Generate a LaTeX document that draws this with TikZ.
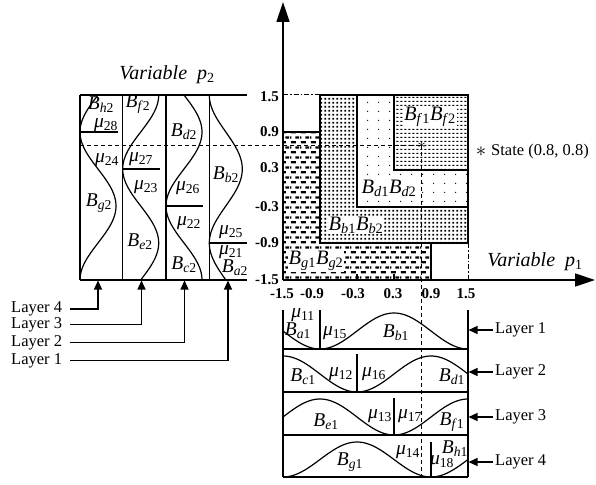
\documentclass[tikz,border=0pt]{standalone}
\usepackage{fontspec}
\setmainfont{Liberation Serif}
\usetikzlibrary{patterns.meta,arrows.meta}
\tikzdeclarepattern{name=gdash,type=uncolored,bounding box={(0pt,0pt) and (10pt,10pt)},tile size={(10pt,10pt)},code={\fill (1pt,0.8pt) rectangle (6.5pt,3.2pt); \fill (6pt,5.8pt) rectangle (10pt,8.2pt); \fill (0pt,5.8pt) rectangle (1.5pt,8.2pt);}}
\tikzdeclarepattern{name=bdots,type=uncolored,bounding box={(0pt,0pt) and (4pt,4pt)},tile size={(4pt,4pt)},code={\fill (0.5pt,0.5pt) rectangle (2.5pt,2.5pt);}}
\tikzdeclarepattern{name=ddots,type=uncolored,bounding box={(0pt,0pt) and (11pt,9pt)},tile size={(11pt,9pt)},code={\fill (5pt,4pt) circle (0.7pt);}}
\tikzdeclarepattern{name=fdash,type=uncolored,bounding box={(0pt,0pt) and (4pt,3.6pt)},tile size={(4pt,3.6pt)},code={\fill (0.5pt,1.2pt) rectangle (2.8pt,2.3pt);}}
\newcommand\Bl[2]{\textit{B}\textsubscript{\textit{#1}#2}}
\newcommand\mul[1]{\textit{μ}\textsubscript{#1}}
\begin{document}
\begin{tikzpicture}[x=1pt,y=-1pt,
  ln/.style={line width=1.3pt},
  crv/.style={line width=1.2pt},
  dsh/.style={line width=1pt,dash pattern=on 4pt off 3pt},
  dd/.style={line width=1pt,dash pattern=on 5pt off 2pt on 1.5pt off 2pt},
  lbl/.style={font=\fontsize{16.5}{16.5}\selectfont,inner sep=0pt},
  bl/.style={font=\fontsize{19.5}{19.5}\selectfont,inner sep=0pt},
  reg/.style={font=\fontsize{20.5}{20.5}\selectfont,fill=white,inner sep=1pt},
  tk/.style={font=\bfseries\fontsize{15}{15}\selectfont,inner sep=0pt},
  ttl/.style={font=\itshape\fontsize{20}{20}\selectfont,inner sep=0pt},
  arr/.style={line width=1.3pt,-{Triangle[length=9pt,width=8pt]}},
  axis/.style={line width=1.4pt,-{Triangle[length=20pt,width=13pt]}}]
\useasboundingbox (0,0) rectangle (596,484);

% ---------- main plot regions ----------
\fill[pattern=gdash] (283,280) -- (431,280) -- (431,243) -- (320,243) -- (320,132) -- (283,132) -- cycle;
\fill[pattern=bdots] (320,243) -- (320,95) -- (357,95) -- (357,207) -- (468,207) -- (468,243) -- cycle;
\fill[pattern=ddots] (357,207) -- (357,95) -- (394,95) -- (394,170) -- (468,170) -- (468,207) -- cycle;
\fill[pattern=fdash] (394,95) rectangle (468,170);

\node[reg] (gl) at (316,261) {\Bl{g}{1}\Bl{g}{2}};
\node[reg] (bl) at (356,225) {\Bl{b}{1}\Bl{b}{2}};
\node[reg] (dl) at (389,188) {\Bl{d}{1}\Bl{d}{2}};
\node[reg] (fl) at (430,117) {\Bl{f}{1}\Bl{f}{2}};

\draw[ln] (283,132) -- (320,132);
\draw[ln] (320,243) rectangle (468,95);
\draw[ln] (431,243) -- (431,280);
\draw[ln] (357,95) -- (357,207) -- (468,207);
\draw[ln] (394,95) -- (394,170) -- (468,170);
\draw[dd] (283,95) -- (320,95);
\draw[dd] (468,243) -- (468,280);
\draw[ln] (357,280) -- (357,274);
\draw[ln] (394,280) -- (394,274);

% axes
\coordinate (O) at (283,280);
\coordinate (ytip) at (283,2);
\coordinate (xtip) at (595,280);
\draw[axis] (O) -- (ytip);
\draw[axis] (O) -- (xtip);

% state
\node[inner sep=0pt,font=\fontsize{17}{17}\selectfont] (st) at (421.7,145) {$\ast$};
\coordinate (dL) at (80,145);
\coordinate (dB) at (421.7,477);
\draw[dsh] (dL) -- (st.center);
\draw[dsh] (st.center) -- (dB);
\node[inner sep=0pt,font=\fontsize{22}{22}\selectfont] (lgs) at (481,152) {$\ast$};
\node[lbl,anchor=west] (lgt) at (491,152) {State (0.8, 0.8)};

% tick labels
\foreach \v/\y in {1.5/97,0.9/132,0.3/168,-0.3/207,-0.9/243,-1.5/280}
  \node[tk,anchor=east] at (279,\y) {\v};
\foreach \v/\x in {-1.5/282,-0.9/312,-0.3/353,0.3/393,0.9/431,1.5/466}
  \node[tk] at (\x,294) {\v};

\node[ttl] (t2) at (167,75) {Variable\enspace p\textsubscript{\upshape 2}};
\node[ttl] (t1) at (535,262) {Variable\enspace p\textsubscript{\upshape 1}};

% ---------- p2 panel ----------
\draw[ln] (80,95) -- (247,95);
\draw[ln] (80,280) -- (247,280);
\foreach \x in {80,122.7,166,209.3} \draw[ln] (\x,95) -- (\x,280);
\draw[ln] (80,132) -- (118,132);
\draw[ln] (122.7,169) -- (160,169);
\draw[ln] (166,206) -- (203,206);
\draw[ln] (209.3,243) -- (247,243);
\draw[crv] plot[domain=-1.5:1.5,samples=80,smooth] ({80+36*(1+cos(360*(\x+0.3)/2.4))/2},{280-(\x+1.5)*61.667});
\draw[crv] plot[domain=-1.5:1.5,samples=80,smooth] ({122.7+36*(1+cos(360*(\x+0.9)/2.4))/2},{280-(\x+1.5)*61.667});
\draw[crv] plot[domain=-1.5:1.5,samples=80,smooth] ({166+36*(1+cos(360*(\x-0.9)/2.4))/2},{280-(\x+1.5)*61.667});
\draw[crv] plot[domain=-1.5:1.5,samples=80,smooth] ({209.3+33*(1+cos(360*(\x-0.3)/2.4))/2},{280-(\x+1.5)*61.667});

\node[bl] (bh2) at (101,105) {\Bl{h}{2}};
\node[bl] (m28) at (106,125) {\mul{28}};
\node[bl] (m24) at (107,160) {\mul{24}};
\node[bl] (bg2) at (99,203) {\Bl{g}{2}};
\node[bl] (bf2) at (138,104) {\Bl{f}{2}};
\node[bl] (m27) at (141,159) {\mul{27}};
\node[bl] (m23) at (146,187) {\mul{23}};
\node[bl] (be2) at (140,242) {\Bl{e}{2}};
\node[bl] (bd2) at (184,132) {\Bl{d}{2}};
\node[bl] (m26) at (188,188) {\mul{26}};
\node[bl] (m22) at (189,223) {\mul{22}};
\node[bl] (bc2) at (184,265) {\Bl{c}{2}};
\node[bl] (bb2) at (226,175) {\Bl{b}{2}};
\node[bl] (m25) at (231,232) {\mul{25}};
\node[bl] (m21) at (231,252) {\mul{21}};
\node[bl] (ba2) at (235,268) {\Bl{a}{2}};

% left layer arrows
\node[lbl,anchor=west,inner xsep=8pt] (l4) at (3,309) {Layer 4};
\node[lbl,anchor=west,inner xsep=8pt] (l3) at (3,324.5) {Layer 3};
\node[lbl,anchor=west,inner xsep=8pt] (l2) at (3,342.5) {Layer 2};
\node[lbl,anchor=west,inner xsep=8pt] (l1) at (3,360.5) {Layer 1};
\coordinate (c4) at (98,280.5);
\coordinate (c3) at (141.5,280.5);
\coordinate (c2) at (184.5,280.5);
\coordinate (c1) at (228,280.5);
\draw[arr] (l4.east) -| (c4);
\draw[arr] (l3.east) -| (c3);
\draw[arr] (l2.east) -| (c2);
\draw[arr] (l1.east) -| (c1);

% ---------- p1 panel ----------
\draw[ln] (283,310) -- (283,477);
\draw[ln] (468,310) -- (468,477);
\foreach \y in {349,392,435,477} \draw[ln] (283,\y) -- (468,\y);
\draw[ln] (320,310) -- (320,349);
\draw[ln] (357,354) -- (357,392);
\draw[ln] (394,398) -- (394,435);
\draw[ln] (431,442) -- (431,477);
\draw[crv] plot[domain=-1.5:1.5,samples=80,smooth] ({283+(\x+1.5)*61.667},{349-36*(1+cos(360*(\x-0.3)/2.4))/2});
\draw[crv] plot[domain=-1.5:1.5,samples=80,smooth] ({283+(\x+1.5)*61.667},{392-36*(1+cos(360*(\x-0.9)/2.4))/2});
\draw[crv] plot[domain=-1.5:1.5,samples=80,smooth] ({283+(\x+1.5)*61.667},{435-36*(1+cos(360*(\x+0.9)/2.4))/2});
\draw[crv] plot[domain=-1.5:1.5,samples=80,smooth] ({283+(\x+1.5)*61.667},{477-35*(1+cos(360*(\x+0.3)/2.4))/2});

\node[bl] (m11) at (303,315) {\mul{11}};
\node[bl] (ba1) at (298,331) {\Bl{a}{1}};
\node[bl] (m15) at (335,333) {\mul{15}};
\node[bl] (bb1) at (396,333) {\Bl{b}{1}};
\node[bl] (bc1) at (303,377) {\Bl{c}{1}};
\node[bl] (m12) at (341,374) {\mul{12}};
\node[bl] (m16) at (374,374) {\mul{16}};
\node[bl] (bd1) at (452,377) {\Bl{d}{1}};
\node[bl] (be1) at (326,422) {\Bl{e}{1}};
\node[bl] (m13) at (380,416) {\mul{13}};
\node[bl] (m17) at (410,416) {\mul{17}};
\node[bl] (bf1) at (452,422) {\Bl{f}{1}};
\node[bl] (bg1) at (350,462) {\Bl{g}{1}};
\node[bl] (m14) at (408,452) {\mul{14}};
\node[bl] (m18) at (442,462) {\mul{18}};
\node[bl] (bh1) at (455,449) {\Bl{h}{1}};

% right layer arrows
\node[lbl,anchor=west,inner xsep=2pt] (r1) at (493,330) {Layer 1};
\node[lbl,anchor=west,inner xsep=2pt] (r2) at (493,372) {Layer 2};
\node[lbl,anchor=west,inner xsep=2pt] (r3) at (493,417) {Layer 3};
\node[lbl,anchor=west,inner xsep=2pt] (r4) at (493,462) {Layer 4};
\coordinate (e1) at (468.5,330);
\coordinate (e2) at (468.5,372);
\coordinate (e3) at (468.5,417);
\coordinate (e4) at (468.5,462);
\draw[arr] (r1) -- (e1);
\draw[arr] (r2) -- (e2);
\draw[arr] (r3) -- (e3);
\draw[arr] (r4) -- (e4);
\end{tikzpicture}
\end{document}
